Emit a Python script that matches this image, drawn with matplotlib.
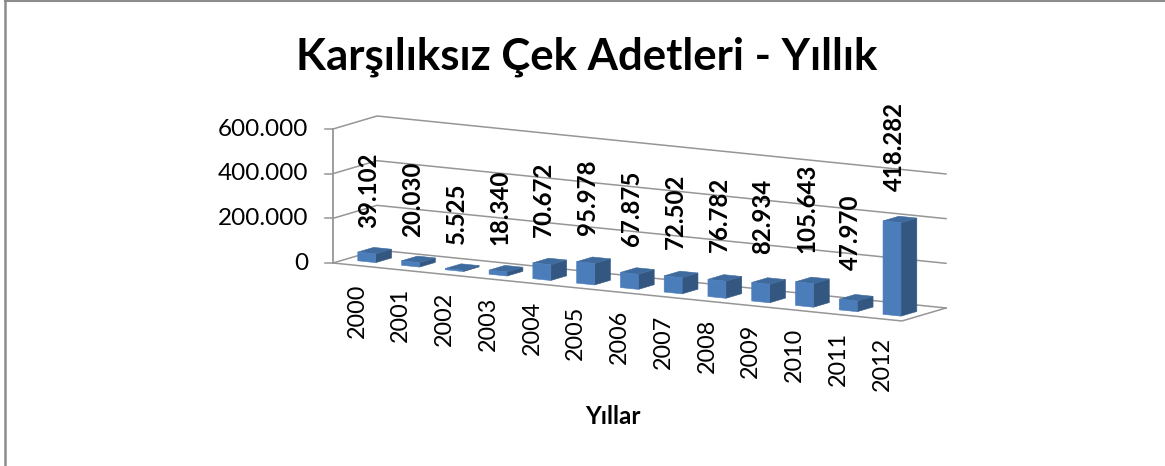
import matplotlib
matplotlib.use("Agg")
import matplotlib.pyplot as plt
from matplotlib.patches import Polygon
from matplotlib.transforms import Affine2D

years = ["2000", "2001", "2002", "2003", "2004", "2005", "2006",
         "2007", "2008", "2009", "2010", "2011", "2012"]
values = [39102, 20030, 5525, 18340, 70672, 95978, 67875,
          72502, 76782, 82934, 105643, 47970, 418282]
value_labels = ["39.102", "20.030", "5.525", "18.340", "70.672", "95.978", "67.875",
                "72.502", "76.782", "82.934", "105.643", "47.970", "418.282"]
y_ticks = [0, 200000, 400000, 600000]
y_tick_labels = ["0", "200.000", "400.000", "600.000"]

plt.rcParams["font.family"] = ["Lato", "DejaVu Sans"]

GRID = "#969696"
FRONT = "#4B7DBA"
SIDE = "#335780"
TOP = "#3F6A9E"
BLACK = "#000000"

# oblique view of the excel chart: (category, value) -> pixels, depth is added on top
proj = Affine2D.from_values(43.77, 4.46, 0, -134.0 / 600000, 333, 263)
DEPTH = (44, -13)


def pt(cat, val, d=0.0):
    x, y = proj.transform((cat, val))
    return (x + DEPTH[0] * d, y + DEPTH[1] * d)


fig = plt.figure(figsize=(11.65, 4.66), dpi=100)
ax = fig.add_axes([0, 0, 1, 1])
ax.set_xlim(0, 1165)
ax.set_ylim(466, 0)
ax.axis("off")

# chart frame, only left and top are inside the crop
ax.plot([4.5, 4.5], [0, 466], color="#8c8c8c", lw=1.8)
ax.plot([4.5, 1165], [1.2, 1.2], color="#8c8c8c", lw=1.5)

n = len(years)
top_val = y_ticks[-1]

# walls and gridlines
for t, lab in zip(y_ticks, y_tick_labels):
    ax.plot(*zip(pt(0, t), pt(0, t, 1), pt(n, t, 1)), color=GRID, lw=1.1, zorder=1)
    x0, y0 = pt(0, t)
    ax.plot([x0 - 8, x0], [y0, y0], color=GRID, lw=1.1, zorder=1)
    ax.text(x0 - 25, y0, lab, ha="right", va="center", fontsize=17.5, color=BLACK)
ax.plot(*zip(pt(0, 0), pt(0, top_val)), color=GRID, lw=1.3, zorder=1)
ax.plot(*zip(pt(0, 0), pt(n, 0), pt(n, 0, 1)), color=GRID, lw=1.1, zorder=1)

# bars
half = 0.205
d0, d1 = 0.27, 0.63
for i, (v, lab, yr) in enumerate(zip(values, value_labels, years)):
    c = i + 0.5
    l, r = c - half, c + half
    ax.add_patch(Polygon([pt(r, 0, d0), pt(r, 0, d1), pt(r, v, d1), pt(r, v, d0)],
                         fc=SIDE, ec=SIDE, lw=0.4, zorder=3))
    ax.add_patch(Polygon([pt(l, v, d0), pt(r, v, d0), pt(r, v, d1), pt(l, v, d1)],
                         fc=TOP, ec=TOP, lw=0.4, zorder=3))
    ax.add_patch(Polygon([pt(l, 0, d0), pt(r, 0, d0), pt(r, v, d0), pt(l, v, d0)],
                         fc=FRONT, ec=FRONT, lw=0.4, zorder=4))
    bx, by = pt(c, v, d1)
    ax.text(pt(c, v, d0)[0] + 2, by - (20 + 0.5 * i), lab, rotation=90, ha="center", va="bottom",
            fontsize=17.3, fontweight="bold", color=BLACK, zorder=5)
    fx, fy = pt(c, 0)
    ax.text(fx + 2, fy + 18, yr, rotation=90, ha="center", va="top", fontsize=16.8, color=BLACK, zorder=5)

ax.text(587, 57, "Karşılıksız Çek Adetleri - Yıllık", ha="center", va="center",
        fontsize=31.5, fontweight="bold", color=BLACK)
ax.text(613, 417, "Yıllar", ha="center", va="center", fontsize=17.5, fontweight="bold", color=BLACK)

fig.savefig("out.png", dpi=100)
